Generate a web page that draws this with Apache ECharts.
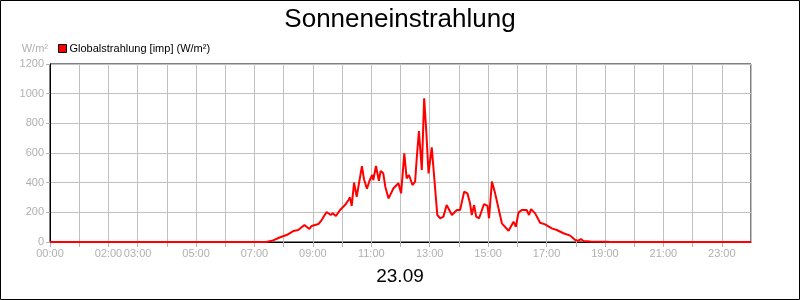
<!DOCTYPE html>
<html>
<head>
<meta charset="utf-8">
<script src="https://cdn.jsdelivr.net/npm/echarts@6/dist/echarts.min.js"></script>
<style>html,body{margin:0;padding:0;background:#fff}#c{width:800px;height:300px}</style>
</head>
<body>
<div id="c"></div>
<script>
const chartTitle = 'Sonneneinstrahlung';
const dateLabel = '23.09';
const seriesName = 'Globalstrahlung [imp] (W/m²)';
const yUnit = 'W/m²';
const labeledHours = [0, 2, 3, 5, 7, 9, 11, 13, 15, 17, 19, 21, 23];
// time in hours of day
const hours = [0, 7.4, 7.6, 7.88, 8.1, 8.33, 8.5, 8.71, 8.88, 8.96, 9.19, 9.3, 9.47, 9.61, 9.68, 9.79, 9.93, 10.1, 10.22, 10.27, 10.33, 10.41, 10.5, 10.56, 10.68, 10.75, 10.85, 10.94, 11.03, 11.07, 11.16, 11.26, 11.32, 11.41, 11.48, 11.59, 11.76, 11.93, 12.02, 12.13, 12.21, 12.29, 12.41, 12.5, 12.56, 12.63, 12.73, 12.81, 12.88, 12.96, 13.07, 13.26, 13.36, 13.47, 13.58, 13.76, 13.93, 14.04, 14.18, 14.29, 14.38, 14.44, 14.52, 14.59, 14.69, 14.86, 14.98, 15.03, 15.13, 15.24, 15.47, 15.7, 15.87, 15.95, 16.04, 16.15, 16.32, 16.4, 16.47, 16.61, 16.78, 16.95, 17.18, 17.35, 17.58, 17.81, 17.98, 18.09, 18.18, 18.26, 18.5, 19.0, 19.2, 24];
const values = [0, 0, 8, 32, 47, 74, 81, 115, 88, 108, 121, 148, 202, 182, 193, 175, 216, 249, 283, 301, 243, 400, 305, 310, 512, 423, 359, 413, 452, 418, 512, 413, 479, 463, 373, 294, 362, 396, 328, 598, 429, 452, 384, 407, 575, 748, 485, 969, 755, 463, 638, 182, 160, 171, 249, 182, 216, 216, 339, 328, 261, 182, 249, 171, 160, 256, 243, 160, 407, 328, 126, 76, 137, 103, 198, 216, 216, 182, 222, 193, 130, 119, 92, 81, 59, 43, 13, 9, 20, 7, 4, 2, 0, 0];

const data = hours.map((h, i) => [h, values[i]]);
const pad = n => (n < 10 ? '0' : '') + n;
const FONT = 'Liberation Sans, Arial, sans-serif';

const chart = echarts.init(document.getElementById('c'), null, {renderer: 'canvas'});
chart.setOption({
  animation: false,
  backgroundColor: '#fff',
  title: [
    {text: chartTitle, left: 'center', top: 2, textStyle: {fontFamily: FONT, fontSize: 26, fontWeight: 'normal', color: '#000'}},
    {text: dateLabel, left: 'center', top: 262, textStyle: {fontFamily: FONT, fontSize: 19, fontWeight: 'normal', color: '#000'}}
  ],
  legend: {
    left: 53, top: 38, itemWidth: 8, itemHeight: 8, itemGap: 4,
    icon: 'rect',
    textStyle: {fontFamily: FONT, fontSize: 11, color: '#000', padding: [0, 0, 0, -2]},
    data: [{name: seriesName, itemStyle: {color: '#ff0000', borderColor: '#000', borderWidth: 1}}]
  },
  graphic: [{type: 'rect', shape: {x: 0.5, y: 0.5, width: 799, height: 299}, style: {fill: 'none', stroke: '#000', lineWidth: 1}, silent: true}],
  grid: {left: 50, right: 49, top: 64, bottom: 58, show: true, borderColor: '#000', borderWidth: 1, backgroundColor: 'transparent'},
  xAxis: {
    type: 'value', min: 0, max: 24, interval: 1,
    axisLine: {lineStyle: {color: '#000', width: 1}},
    axisTick: {show: true, length: 5, lineStyle: {color: '#b4b4b4'}},
    splitLine: {show: true, lineStyle: {color: '#c0c0c0', width: 1}},
    axisLabel: {
      fontFamily: FONT, fontSize: 11, color: '#b0b0b0', margin: 6, showMaxLabel: false,
      formatter: v => labeledHours.indexOf(v) >= 0 ? pad(v) + ':00' : ''
    }
  },
  yAxis: {
    type: 'value', min: 0, max: 1200, interval: 200,
    name: yUnit, nameLocation: 'end', nameGap: 10,
    nameTextStyle: {fontFamily: FONT, fontSize: 11, color: '#b0b0b0', align: 'right', padding: [0, 2, 0, 0]},
    axisLine: {show: true, lineStyle: {color: '#000', width: 1}},
    axisTick: {show: true, length: 4, lineStyle: {color: '#b4b4b4'}},
    splitLine: {show: true, lineStyle: {color: '#c0c0c0', width: 1}},
    axisLabel: {fontFamily: FONT, fontSize: 11, color: '#b0b0b0', margin: 6, formatter: v => String(v)}
  },
  series: [{
    name: seriesName, type: 'line', data: data, showSymbol: false, symbol: 'none',
    lineStyle: {color: '#ff0000', width: 2}, itemStyle: {color: '#ff0000'}, z: 5
  }]
});
</script>
</body>
</html>
